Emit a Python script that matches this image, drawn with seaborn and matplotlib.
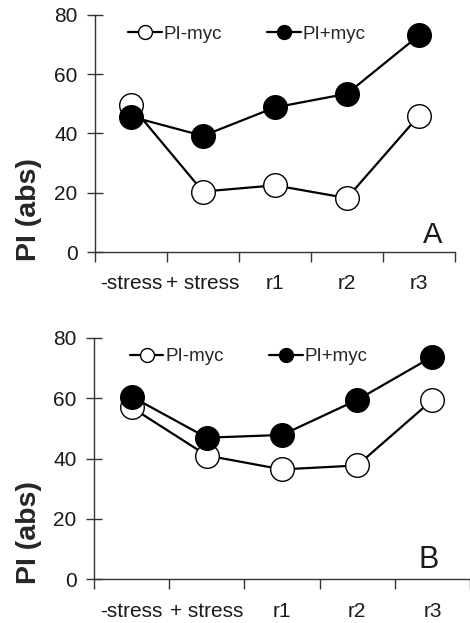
import matplotlib
matplotlib.use("Agg")
import matplotlib.pyplot as plt
import seaborn as sns
import pandas as pd
from matplotlib.lines import Line2D

categories = ["-stress", "+stress", "r1", "r2", "r3"]
tick_labels = ["-stress", "+ stress", "r1", "r2", "r3"]
a_minus = [49.5, 20.4, 22.5, 18.2, 46.0]
a_plus = [45.7, 39.2, 48.8, 53.4, 73.1]
b_minus = [56.9, 41.0, 36.4, 37.7, 59.4]
b_plus = [60.5, 46.9, 47.8, 59.4, 73.7]
panel_letters = ["A", "B"]

sns.set_theme(style="white")
plt.rcParams['font.family'] = ['Liberation Sans', 'DejaVu Sans']

fig = plt.figure(figsize=(4.7, 6.23), dpi=100)
axA = fig.add_axes([0.202, 0.5955, 0.766, 0.3805])
axB = fig.add_axes([0.200, 0.070, 0.80, 0.388])

def draw(ax, minus, plus, letter, leg_x, lab_xy, let_xy, let_fs):
    df = pd.DataFrame({"cat": categories * 2,
                       "val": minus + plus,
                       "series": ["PI-myc"] * 5 + ["PI+myc"] * 5})
    for name, fc in [("PI-myc", "white"), ("PI+myc", "black")]:
        sub = df[df.series == name]
        sns.lineplot(data=sub, x="cat", y="val", ax=ax, sort=False,
                     color="black", linewidth=1.6, marker="o", markersize=17,
                     markerfacecolor=fc, markeredgecolor="black",
                     markeredgewidth=1.0, clip_on=False, zorder=3,
                     legend=False)
    ax.set_xlim(-0.5, 4.5)
    ax.set_ylim(0, 80)
    ax.set_yticks([0, 20, 40, 60, 80])
    ax.set_xticks(range(5))
    ax.set_xticklabels(tick_labels)
    ax.set_xticks([x - 0.5 for x in range(6)], minor=True)
    ax.tick_params(axis="x", which="major", length=0, pad=16, labelsize=15,
                   colors="#1a1a1a")
    ax.tick_params(axis="x", which="minor", direction="out", length=7,
                   width=1, color="#333333", bottom=True)
    ax.tick_params(axis="y", direction="inout", length=11, width=1,
                   color="#333333", labelsize=15, pad=7, left=True,
                   labelcolor="#1a1a1a")
    for s in ["top", "right"]:
        ax.spines[s].set_visible(False)
    for s in ["left", "bottom"]:
        ax.spines[s].set_color("#333333")
        ax.spines[s].set_linewidth(1.0)
    ax.set_xlabel("")
    ax.set_ylabel("PI (abs)", fontsize=20.5, fontweight="bold")
    ax.yaxis.set_label_coords(*lab_xy)
    ax.text(let_xy[0], let_xy[1], letter, transform=ax.transAxes, ha="right",
            va="bottom", fontsize=let_fs, color="#1a1a1a")
    handles = [Line2D([], [], color="black", linewidth=1.6, marker="o",
                      markersize=10, markerfacecolor=fc,
                      markeredgecolor="black")
               for fc in ["white", "black"]]
    ax.legend(handles, ["PI-myc", "PI+myc"], ncol=2, frameon=False,
              loc="upper left", bbox_to_anchor=(leg_x, 1.01), fontsize=13.5,
              handlelength=1.8, handletextpad=0.1, columnspacing=2.4,
              borderaxespad=0.3)

draw(axA, a_minus, a_plus, panel_letters[0], 0.055, (-0.147, 0.18),
     (0.965, 0.012), 21)
draw(axB, b_minus, b_plus, panel_letters[1], 0.06, (-0.138, 0.195),
     (0.918, 0.02), 22)

fig.savefig("out.png", dpi=100)
